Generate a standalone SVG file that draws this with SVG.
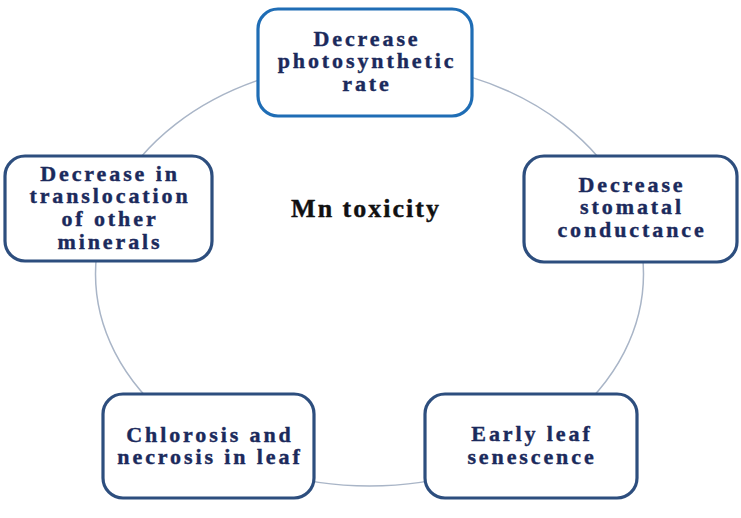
<svg xmlns="http://www.w3.org/2000/svg" width="741" height="518" viewBox="0 0 741 518">
<style>
.box{fill:#fff;stroke:#2d4e7e;stroke-width:3.2}
.top{stroke:#1f6db5}
.t{font-family:"Liberation Serif","Times New Roman",serif;font-weight:bold;font-size:22px;fill:#1b2a5c;stroke:#1b2a5c;stroke-width:0.4;text-anchor:middle;letter-spacing:2.9px}
.c{fill:none;stroke:#a9b5c7;stroke-width:1.5}
</style>
<rect width="741" height="518" fill="#fff"/>
<g id="connectors">
<ellipse class="c" cx="369.5" cy="274" rx="274" ry="212"/>
</g>
<g id="center">
<text x="366" y="217" style="font-family:'Liberation Serif','Times New Roman',serif;font-weight:bold;font-size:26px;fill:#111;stroke:#111;stroke-width:0.4;text-anchor:middle;letter-spacing:2px">Mn toxicity</text>
</g>
<g id="n1">
<rect class="box top" x="258" y="9" width="214" height="107" rx="20"/>
<text class="t" x="367" y="46">Decrease</text>
<text class="t" x="367" y="68">photosynthetic</text>
<text class="t" x="367" y="91">rate</text>
</g>
<g id="n2">
<rect class="box" x="524" y="156" width="213" height="106" rx="20"/>
<text class="t" x="632" y="192">Decrease</text>
<text class="t" x="632" y="214">stomatal</text>
<text class="t" x="632" y="237">conductance</text>
</g>
<g id="n3">
<rect class="box" x="425" y="394" width="212" height="104" rx="20"/>
<text class="t" x="532" y="441">Early leaf</text>
<text class="t" x="532" y="464">senescence</text>
</g>
<g id="n4">
<rect class="box" x="103" y="394" width="211" height="104" rx="20"/>
<text class="t" x="210" y="442">Chlorosis and</text>
<text class="t" x="210" y="464">necrosis in leaf</text>
</g>
<g id="n5">
<rect class="box" x="5" y="156" width="207" height="105" rx="20"/>
<text class="t" x="110" y="181">Decrease in</text>
<text class="t" x="110" y="203">translocation</text>
<text class="t" x="110" y="226">of other</text>
<text class="t" x="110" y="249">minerals</text>
</g>
</svg>
